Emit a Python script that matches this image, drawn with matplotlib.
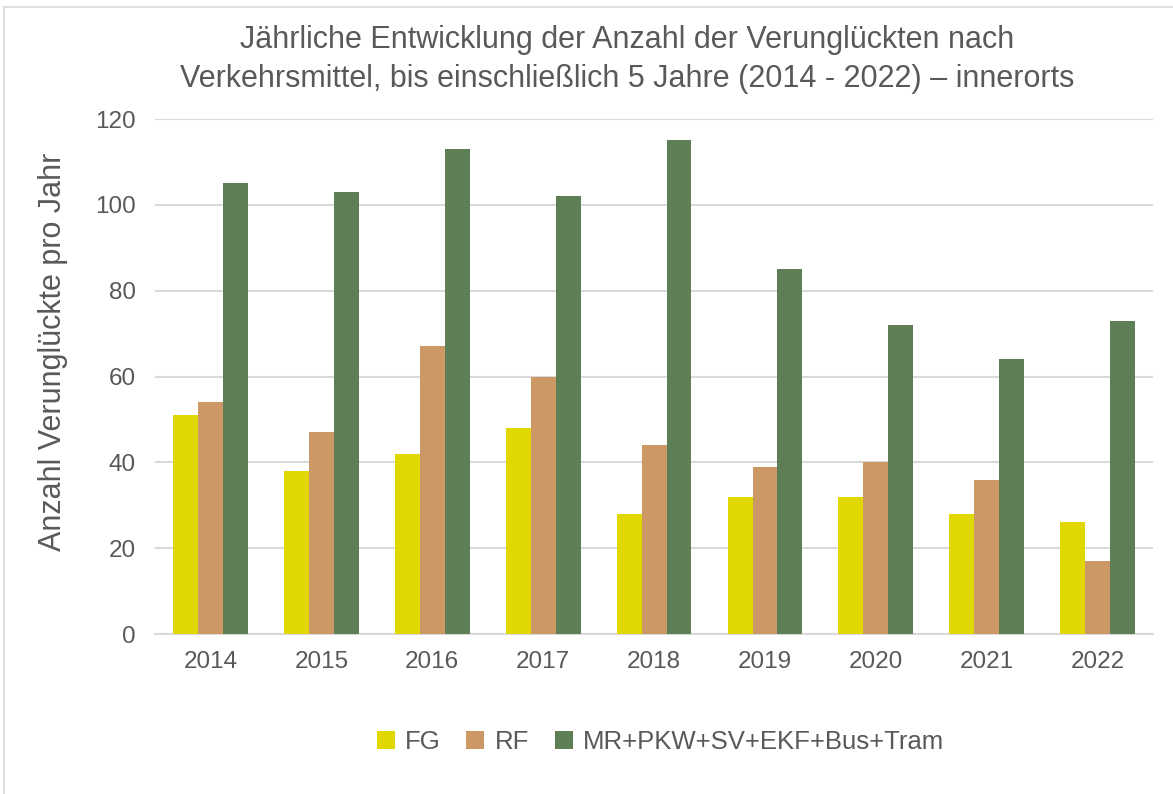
import matplotlib
matplotlib.use("Agg")
import matplotlib.pyplot as plt
import numpy as np
from matplotlib.lines import Line2D

plt.rcParams['font.family'] = ['Liberation Sans Narrow', 'Liberation Sans', 'DejaVu Sans']

years = ['2014', '2015', '2016', '2017', '2018', '2019', '2020', '2021', '2022']
fg = [51, 38, 42, 48, 28, 32, 32, 28, 26]
rf = [54, 47, 67, 60, 44, 39, 40, 36, 17]
mr = [105, 103, 113, 102, 115, 85, 72, 64, 73]
series_names = ['FG', 'RF', 'MR+PKW+SV+EKF+Bus+Tram']
colors = ['#E0D800', '#CC9966', '#5E7F55']

text_col = '#595959'

fig = plt.figure(figsize=(11.73, 7.94), dpi=100)
ax = fig.add_axes([0.1321, 0.2015, 0.851, 0.6486])

x = np.arange(len(years))
w = 0.225
for i, (vals, name, c) in enumerate(zip([fg, rf, mr], series_names, colors)):
    ax.bar(x + (i - 1) * w, vals, width=w, color=c, label=name, zorder=3)

ax.set_xlim(-0.5, len(years) - 0.5)
ax.set_ylim(0, 120)
ax.set_yticks(range(0, 121, 20))
ax.set_xticks(x)
ax.set_xticklabels(years)
ax.yaxis.grid(True, color='#D9D9D9', linewidth=1.5, zorder=0)
for s in ['top', 'right', 'left']:
    ax.spines[s].set_visible(False)
ax.spines['bottom'].set_color('#D9D9D9')
ax.spines['bottom'].set_linewidth(1.5)
ax.tick_params(axis='both', length=0, colors=text_col, labelsize=17.5)
ax.tick_params(axis='y', pad=14)
ax.tick_params(axis='x', pad=12)

ax.set_ylabel('Anzahl Verunglückte pro Jahr', fontsize=22, color=text_col)
ax.yaxis.set_label_coords(-0.087, 0.548)

fig.text(0.535, 0.95, 'Jährliche Entwicklung der Anzahl der Verunglückten nach',
         ha='center', va='center', fontsize=22, color=text_col)
fig.text(0.535, 0.9, 'Verkehrsmittel, bis einschließlich 5 Jahre (2014 - 2022) – innerorts',
         ha='center', va='center', fontsize=22, color=text_col)

leg = fig.legend(loc='center', bbox_to_anchor=(0.563, 0.065), ncol=3, frameon=False,
                 fontsize=18.5, handlelength=0.7, handleheight=0.7, handletextpad=0.4,
                 columnspacing=1.0)
for t in leg.get_texts():
    t.set_color(text_col)

# chart frame (top and left edge visible)
fig.add_artist(Line2D([4 / 1173, 1], [1 - 7 / 794, 1 - 7 / 794], color='#D9D9D9', linewidth=1.2))
fig.add_artist(Line2D([4 / 1173, 4 / 1173], [0, 1 - 7 / 794], color='#D9D9D9', linewidth=1.2))

fig.savefig('out.png', dpi=100)
